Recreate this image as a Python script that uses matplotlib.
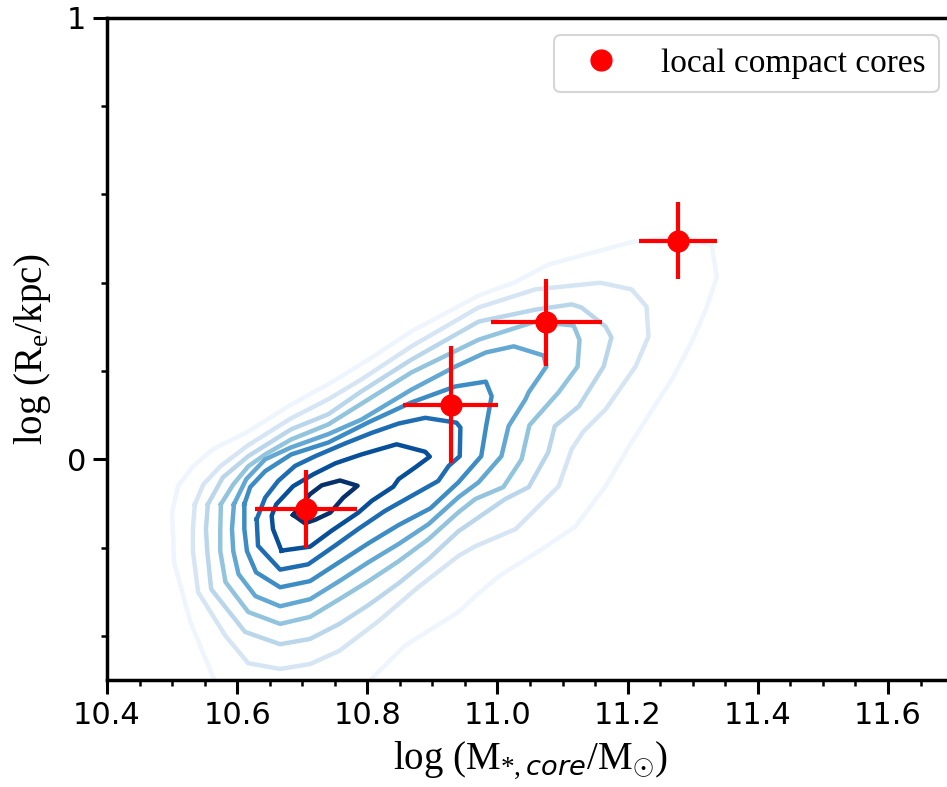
import numpy as np
import matplotlib.pyplot as plt
from matplotlib.lines import Line2D
from matplotlib.ticker import MultipleLocator

# ------------------------------------------------------------
# 1. DATA
# ------------------------------------------------------------
# local compact cores (points with errors)
core_mass = [10.706, 10.928, 11.075, 11.278]
core_mass_err = [0.078, 0.073, 0.085, 0.060]
core_re = [-0.113, 0.124, 0.310, 0.495]
core_re_err = [0.089, 0.133, 0.098, 0.087]

# density contours of the comparison sample, outermost -> innermost
c1_x = [10.577, 10.528, 10.503, 10.500, 10.509, 10.532, 10.563, 10.617, 10.683, 10.740, 10.802, 10.868,
        10.971, 11.025, 11.078, 11.140, 11.209, 11.278, 11.329, 11.337, 11.320, 11.298, 11.268, 11.248,
        11.202, 11.166, 11.120, 11.068, 11.002, 10.966, 10.940, 10.857, 10.808, 10.783]
c1_y = [-0.543, -0.369, -0.233, -0.120, -0.061, -0.016, 0.023, 0.063, 0.124, 0.170, 0.226, 0.290,
        0.371, 0.400, 0.441, 0.466, 0.493, 0.505, 0.486, 0.412, 0.339, 0.265, 0.181, 0.136,
        0.029, -0.061, -0.152, -0.204, -0.265, -0.310, -0.346, -0.423, -0.495, -0.543]

c2_x = [10.535, 10.532, 10.532, 10.540, 10.582, 10.617, 10.666, 10.712, 10.757, 10.817, 10.878, 10.940,
        10.966, 11.028, 11.094, 11.114, 11.132, 11.166, 11.212, 11.232, 11.229, 11.206, 11.158, 11.058,
        10.971, 10.868, 10.791, 10.740, 10.683, 10.617, 10.574, 10.548, 10.535]
c2_y = [-0.102, -0.158, -0.208, -0.301, -0.400, -0.462, -0.475, -0.464, -0.434, -0.367, -0.290, -0.219,
        -0.197, -0.158, -0.061, 0.023, 0.063, 0.113, 0.210, 0.278, 0.346, 0.385, 0.400, 0.385,
        0.344, 0.256, 0.181, 0.136, 0.093, 0.032, -0.016, -0.057, -0.102]

c3_x = [10.555, 10.552, 10.554, 10.560, 10.612, 10.666, 10.712, 10.757, 10.802, 10.848, 10.894, 10.940,
        11.012, 11.048, 11.078, 11.088, 11.125, 11.163, 11.175, 11.166, 11.129, 11.114, 11.058, 10.971,
        10.868, 10.791, 10.740, 10.683, 10.617, 10.578, 10.555]
c3_y = [-0.102, -0.158, -0.208, -0.294, -0.391, -0.419, -0.407, -0.373, -0.330, -0.281, -0.226, -0.163,
        -0.090, -0.063, 0.016, 0.075, 0.120, 0.210, 0.276, 0.301, 0.344, 0.351, 0.339, 0.312,
        0.226, 0.154, 0.102, 0.068, 0.007, -0.041, -0.102]

c4_x = [10.575, 10.574, 10.574, 10.582, 10.617, 10.666, 10.712, 10.757, 10.802, 10.848, 10.894, 10.940,
        10.966, 11.009, 11.037, 11.049, 11.094, 11.123, 11.126, 11.117, 11.058, 10.971, 10.868, 10.791,
        10.740, 10.683, 10.643, 10.617, 10.594, 10.575]
c4_y = [-0.102, -0.158, -0.208, -0.278, -0.346, -0.373, -0.357, -0.317, -0.276, -0.231, -0.181, -0.120,
        -0.090, -0.063, 0.0, 0.077, 0.152, 0.210, 0.271, 0.303, 0.312, 0.271, 0.197, 0.126,
        0.079, 0.045, 0.011, -0.016, -0.057, -0.102]

c5_x = [10.595, 10.592, 10.594, 10.602, 10.628, 10.666, 10.712, 10.757, 10.802, 10.848, 10.894, 10.940,
        10.971, 11.006, 11.017, 11.043, 11.048, 11.075, 11.071, 11.025, 10.982, 10.935, 10.868, 10.791,
        10.740, 10.683, 10.643, 10.614, 10.595]
c5_y = [-0.102, -0.158, -0.208, -0.260, -0.310, -0.333, -0.317, -0.276, -0.233, -0.192, -0.147, -0.086,
        -0.052, 0.007, 0.075, 0.136, 0.152, 0.210, 0.235, 0.256, 0.242, 0.210, 0.158, 0.090,
        0.057, 0.027, 0.0, -0.045, -0.102]

c6_x = [10.611, 10.611, 10.615, 10.629, 10.666, 10.712, 10.757, 10.802, 10.848, 10.897, 10.940, 10.975,
        10.983, 10.991, 10.982, 10.935, 10.894, 10.868, 10.802, 10.740, 10.683, 10.643, 10.620, 10.611]
c6_y = [-0.102, -0.158, -0.208, -0.256, -0.290, -0.276, -0.233, -0.190, -0.149, -0.111, -0.052, 0.007,
        0.079, 0.143, 0.176, 0.165, 0.143, 0.129, 0.084, 0.038, 0.011, -0.027, -0.063, -0.102]

c7_x = [10.630, 10.632, 10.666, 10.709, 10.750, 10.786, 10.827, 10.868, 10.909, 10.925, 10.942, 10.943,
        10.937, 10.889, 10.848, 10.807, 10.766, 10.720, 10.689, 10.663, 10.643, 10.630]
c7_y = [-0.136, -0.196, -0.250, -0.238, -0.196, -0.158, -0.117, -0.083, -0.049, -0.015, 0.007, 0.072,
        0.083, 0.094, 0.081, 0.060, 0.036, 0.007, -0.015, -0.049, -0.087, -0.136]

c8_x = [10.668, 10.655, 10.653, 10.660, 10.686, 10.717, 10.751, 10.791, 10.845, 10.889, 10.896, 10.873,
        10.848, 10.840, 10.807, 10.786, 10.745, 10.712, 10.668]
c8_y = [-0.207, -0.158, -0.128, -0.102, -0.061, -0.034, -0.009, 0.011, 0.034, 0.017, 0.006, -0.019,
        -0.045, -0.062, -0.094, -0.121, -0.162, -0.198, -0.207]

c9_x = [10.686, 10.704, 10.720, 10.743, 10.763, 10.785, 10.758, 10.730, 10.712, 10.686]
c9_y = [-0.126, -0.145, -0.137, -0.121, -0.087, -0.060, -0.048, -0.059, -0.079, -0.126]

contours = [(c1_x, c1_y), (c2_x, c2_y), (c3_x, c3_y), (c4_x, c4_y), (c5_x, c5_y),
            (c6_x, c6_y), (c7_x, c7_y), (c8_x, c8_y), (c9_x, c9_y)]

x_ticks = [10.4, 10.6, 10.8, 11.0, 11.2, 11.4, 11.6]
x_ticklabels = ['10.4', '10.6', '10.8', '11.0', '11.2', '11.4', '11.6']
y_ticks = [0, 1]
y_ticklabels = ['0', '1']

# ------------------------------------------------------------
# 2. STYLE
# ------------------------------------------------------------
plt.rcParams.update({
    'font.family': 'serif',
    'font.serif': ['Times New Roman', 'Liberation Serif', 'DejaVu Serif'],
    'mathtext.fontset': 'custom',
    'mathtext.rm': 'Liberation Serif',
    'mathtext.it': 'DejaVu Sans:italic',
    'axes.linewidth': 2.5,
})

tick_font = {'family': 'DejaVu Sans', 'size': 22}

# ------------------------------------------------------------
# 3. PLOT
# ------------------------------------------------------------
fig = plt.figure(figsize=(9.47, 7.87), dpi=100)
ax = fig.add_axes([0.1130, 0.1360, 0.8934, 0.8412])

cores = plt.cm.Blues(np.linspace(0.05, 1.0, len(contours)))
for (cx, cy), cor in zip(contours, cores):
    ax.plot(cx, cy, color=cor, linewidth=3.2, solid_joinstyle='round', zorder=1)

ax.errorbar(core_mass, core_re, xerr=core_mass_err, yerr=core_re_err,
            fmt='o', color='red', markersize=15, elinewidth=3, capsize=0, zorder=3)

ax.set_xlim(10.4, 11.7)
ax.set_ylim(-0.5, 1.0)
ax.xaxis.set_minor_locator(MultipleLocator(0.05))
ax.yaxis.set_minor_locator(MultipleLocator(0.2))
ax.tick_params(which='major', length=10, width=2.2, pad=5)
ax.tick_params(which='minor', length=4.5, width=1.8)
ax.set_xticks(x_ticks)
ax.set_xticklabels(x_ticklabels, fontdict=tick_font)
ax.set_yticks(y_ticks)
ax.set_yticklabels(y_ticklabels, fontdict=tick_font)

ax.set_xlabel(r'log (M$_{*, core}$/M$_{\odot}$)', fontsize=28, labelpad=7)
ax.set_ylabel(r'log (R$_{\mathrm{e}}$/kpc)', fontsize=28, labelpad=10)

handle = Line2D([0], [0], marker='o', color='red', linestyle='none', markersize=15)
leg = ax.legend([handle], ['local compact cores'], loc='upper right',
                bbox_to_anchor=(939 / 947, 1 - 35 / 787), bbox_transform=fig.transFigure,
                borderaxespad=0, fontsize=24, frameon=True)
leg.get_frame().set_linewidth(1.5)

fig.savefig('out.png', dpi=100)
